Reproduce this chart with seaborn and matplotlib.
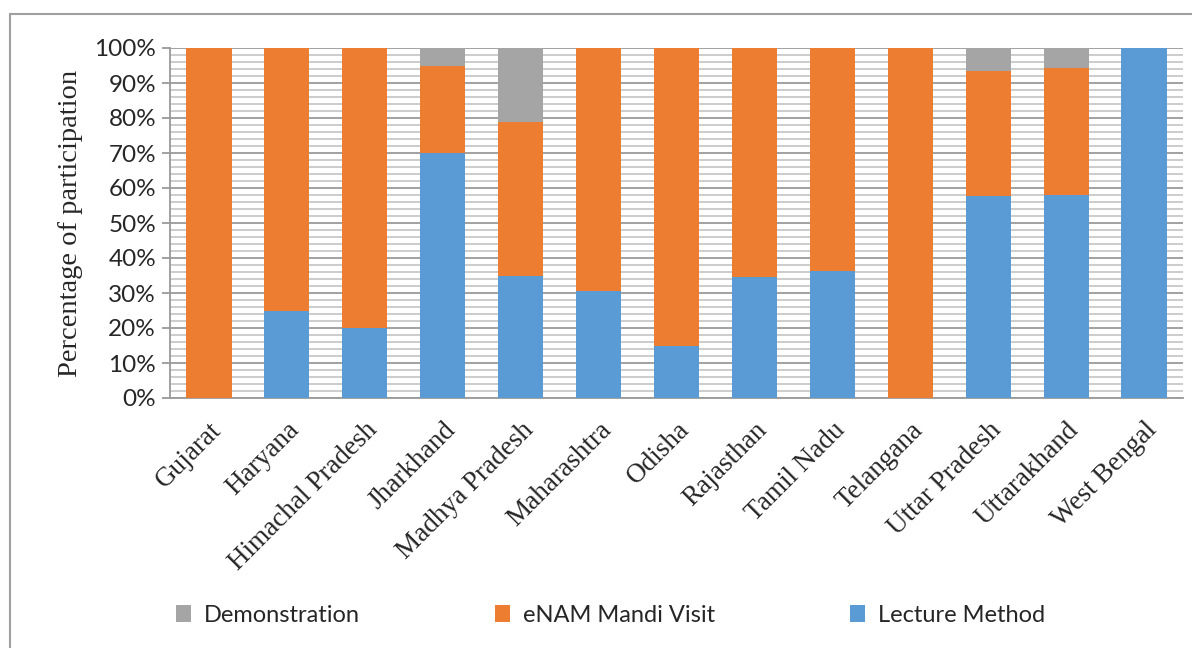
import matplotlib
matplotlib.use("Agg")
import matplotlib.pyplot as plt
from matplotlib.ticker import MultipleLocator, PercentFormatter
from matplotlib.patches import Rectangle, Patch
import numpy as np
import pandas as pd
import seaborn as sns

# Share of participation (%) by extension method, per state
states = ["Gujarat", "Haryana", "Himachal Pradesh", "Jharkhand", "Madhya Pradesh",
          "Maharashtra", "Odisha", "Rajasthan", "Tamil Nadu", "Telangana",
          "Uttar Pradesh", "Uttarakhand", "West Bengal"]
lecture = [0, 25, 20, 70, 35, 30.5, 15, 34.5, 36.3, 0, 57.8, 58.1, 100]
enam_visit = [100, 75, 80, 25, 44, 69.5, 85, 65.5, 63.7, 100, 35.6, 36.1, 0]
demonstration = [0, 0, 0, 5, 21, 0, 0, 0, 0, 0, 6.6, 5.8, 0]

series_names = ["Demonstration", "eNAM Mandi Visit", "Lecture Method"]
colors = {"Demonstration": "#A5A5A5", "eNAM Mandi Visit": "#ED7D31",
          "Lecture Method": "#5B9BD5"}

df = pd.DataFrame({"State": states, "Lecture Method": lecture,
                   "eNAM Mandi Visit": enam_visit, "Demonstration": demonstration})
# cumulative tops for the stacked layers
df["top_lecture"] = df["Lecture Method"]
df["top_enam"] = df["top_lecture"] + df["eNAM Mandi Visit"]
df["top_demo"] = df["top_enam"] + df["Demonstration"]

sns.set_theme(style="white")
plt.rcParams["font.family"] = ["Lato", "DejaVu Sans"]

fig = plt.figure(figsize=(11.92, 6.48), dpi=100)
ax = fig.add_axes([170 / 1192, 1 - 398 / 648, (1183 - 170) / 1192, 350 / 648])

bar_w = 0.58
for col, name in [("top_demo", "Demonstration"), ("top_enam", "eNAM Mandi Visit"),
                  ("top_lecture", "Lecture Method")]:
    sns.barplot(data=df, x="State", y=col, color=colors[name], width=bar_w,
                saturation=1, ax=ax, zorder=3, linewidth=0, order=states)

ax.set_ylim(0, 100)
ax.set_xlim(-0.5, len(states) - 0.5)
ax.yaxis.set_major_locator(MultipleLocator(10))
ax.yaxis.set_minor_locator(MultipleLocator(2))
ax.yaxis.set_major_formatter(PercentFormatter(decimals=0))
ax.grid(axis="y", which="major", color="#9a9a9a", linewidth=1.3, zorder=0)
ax.grid(axis="y", which="minor", color="#c8c8c8", linewidth=1.3, zorder=0)
ax.set_axisbelow(True)

for side in ["top", "right"]:
    ax.spines[side].set_visible(False)
for side in ["left", "bottom"]:
    ax.spines[side].set_color("#9a9a9a")
    ax.spines[side].set_linewidth(1.3)

ax.tick_params(axis="y", which="major", left=True, length=6, width=1.3,
               color="#9a9a9a", labelsize=17.5, pad=4)
ax.tick_params(axis="y", which="minor", left=False)
ax.tick_params(axis="x", bottom=False, pad=8)

ax.set_xlabel("")
ax.set_ylabel("Percentage of participation", family=["Liberation Serif"],
              fontsize=20.5, labelpad=8)
ax.set_xticks(range(len(states)))
ax.set_xticklabels(states, rotation=45, ha="right", rotation_mode="anchor",
                   family=["Liberation Serif"], fontsize=19.5)

handles = [Patch(facecolor=colors[n], edgecolor="none") for n in series_names]
fig.legend(handles, series_names, loc="center", bbox_to_anchor=(0.512, 1 - 615 / 648),
           ncol=3, frameon=False, fontsize=17, handlelength=0.65, handleheight=0.7,
           handletextpad=0.55, columnspacing=5.7)

# chart-area border
fig.patches.append(Rectangle((10 / 1192, -0.05), 1.2, 1 - 14 / 648 + 0.05,
                             transform=fig.transFigure, fill=False,
                             edgecolor="#a0a0a0", linewidth=1.5))

fig.savefig("out.png", dpi=100)
